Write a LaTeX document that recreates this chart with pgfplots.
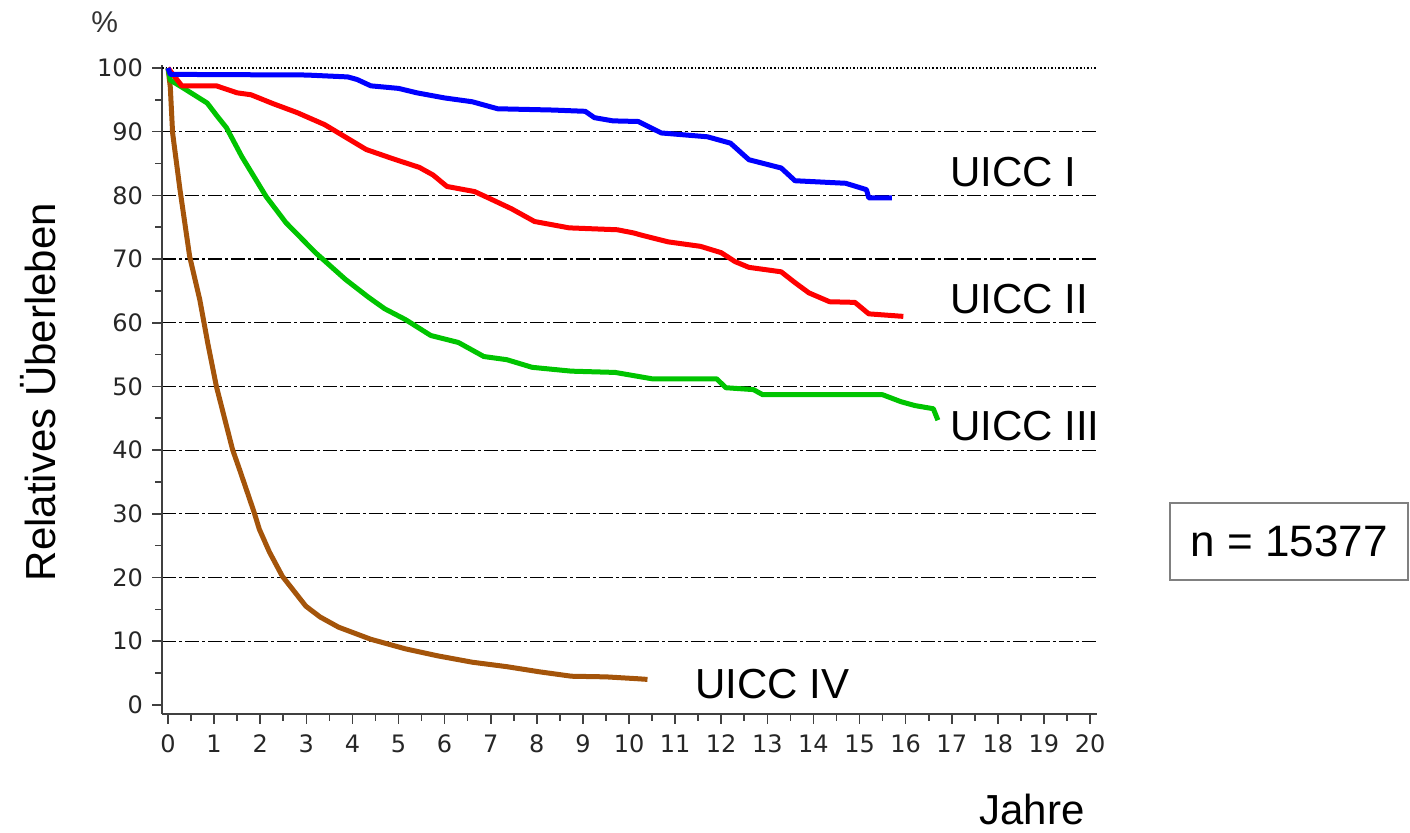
\documentclass[border=0pt]{standalone}
\usepackage{fontspec}
\setmainfont{Liberation Sans}
\newfontfamily\tickfont{DejaVu Sans}
\usepackage{pgfplots}
\pgfplotsset{compat=1.18}

\definecolor{uiccI}{RGB}{0,0,255}
\definecolor{uiccII}{RGB}{255,0,0}
\definecolor{uiccIII}{RGB}{0,196,0}
\definecolor{uiccIV}{RGB}{164,84,10}

\begin{document}
\begin{tikzpicture}
\begin{axis}[
  scale only axis, width=467.5pt, height=324.5pt,
  xmin=-0.13, xmax=20.15, ymin=-1.4, ymax=100.5,
  axis x line*=bottom, axis y line*=left,
  axis line style={-, black!75, line width=0.8pt},
  xtick={0,...,20}, minor xtick={0.5,1.5,...,19.5},
  ytick={10,20,...,90}, minor ytick={5,15,...,95},
  extra y ticks={0,100},
  extra y tick style={ymajorgrids=false},
  ymajorgrids,
  grid style={black, line width=0.6pt, dash pattern=on 7pt off 1.5pt on 1.5pt off 1.5pt},
  tick align=outside,
  major tick length=5pt, minor tick length=3.5pt,
  tick style={black!75, line width=0.8pt},
  /pgf/number format/assume math mode=true,
  ticklabel style={font=\tickfont\fontsize{12}{14}\selectfont, text=black!85},
  xticklabel style={yshift=-2pt},
  yticklabel style={xshift=-1pt},
  clip=false,
]
% top line at 100 is dotted in the original
\addplot[black, line width=0.8pt, densely dotted] coordinates {(-0.13,100) (20.15,100)};

% UICC IV
\addplot[uiccIV, line width=2.5pt, line join=round] coordinates {
(0,100) (0.05,97) (0.1,89.8) (0.26,80.9) (0.47,70.4) (0.69,63.6) (0.86,56.9)
(1.05,50) (1.4,40.1) (1.55,37) (1.87,30.2) (1.98,27.6) (2.2,24) (2.48,20.2)
(2.99,15.5) (3.3,13.8) (3.7,12.2) (4.4,10.3) (5.15,8.8) (5.85,7.7) (6.6,6.7)
(7.35,6) (8.05,5.2) (8.75,4.5) (9.5,4.4) (10.2,4.1) (10.4,4.0)};

% UICC III
\addplot[uiccIII, line width=2.5pt, line join=round] coordinates {
(0,100) (0.05,98.1) (0.3,97) (0.85,94.5) (1.05,92.6) (1.27,90.6) (1.6,86.1)
(2.13,79.8) (2.56,75.7) (3.2,71) (3.85,66.8) (4.35,64) (4.7,62.2) (5.15,60.5)
(5.7,58) (6.3,56.9) (6.85,54.7) (7.35,54.2) (7.9,53) (8.75,52.4) (9.7,52.2)
(10.1,51.7) (10.5,51.2) (11.9,51.2) (12.1,49.8) (12.7,49.5) (12.9,48.7)
(15.5,48.7) (15.9,47.6) (16.2,47) (16.6,46.5) (16.7,44.7)};

% UICC II
\addplot[uiccII, line width=2.5pt, line join=round] coordinates {
(0,100) (0.3,97.2) (1.05,97.2) (1.5,96.1) (1.8,95.8) (2.28,94.4) (2.8,93)
(3.4,91.1) (3.7,89.8) (4.3,87.2) (4.9,85.7) (5.45,84.4) (5.75,83.2) (6.05,81.4)
(6.65,80.6) (6.95,79.6) (7.45,77.9) (7.95,75.9) (8.7,74.9) (9.75,74.6)
(10.1,74.1) (10.3,73.7) (10.85,72.7) (11.55,72) (12.0,71) (12.3,69.6)
(12.6,68.7) (13.3,68) (13.6,66.3) (13.9,64.7) (14.35,63.3) (14.9,63.2)
(15.2,61.4) (15.95,61)};

% UICC I
\addplot[uiccI, line width=2.5pt, line join=round] coordinates {
(0,100) (0.05,99) (3,98.9) (3.9,98.6) (4.1,98.2) (4.4,97.2) (5.0,96.8)
(5.4,96.1) (6.0,95.3) (6.6,94.7) (7.15,93.6) (8.35,93.4) (9.05,93.2)
(9.25,92.2) (9.65,91.7) (10.2,91.6) (10.7,89.8) (11.7,89.2) (12.2,88.2)
(12.6,85.6) (13.3,84.3) (13.6,82.3) (14.7,81.9) (15.15,80.9) (15.2,79.6)
(15.7,79.6)};

\node[font=\fontsize{15}{18}\selectfont, text=black!80] at (axis cs:-1.37,107.2) {\%};
\node[rotate=90, font=\fontsize{21}{25}\selectfont] at (axis cs:-2.82,49.1) {Relatives Überleben};
\node[font=\fontsize{21}{25}\selectfont] at (axis cs:18.74,-16.5) {Jahre};
\node[anchor=west, inner sep=0pt, font=\fontsize{21}{25}\selectfont] at (axis cs:16.96,83.7) {UICC I};
\node[anchor=west, inner sep=0pt, font=\fontsize{21}{25}\selectfont] at (axis cs:16.96,63.7) {UICC II};
\node[anchor=west, inner sep=0pt, font=\fontsize{21}{25}\selectfont] at (axis cs:16.96,43.8) {UICC III};
\node[anchor=west, inner sep=0pt, font=\fontsize{21}{25}\selectfont] at (axis cs:11.43,3.3) {UICC IV};
\node[draw=black!50, line width=0.8pt, minimum width=119pt, minimum height=38.5pt,
  font=\fontsize{22}{26}\selectfont] at (axis cs:24.32,25.67) {n = 15377};

\path (axis cs:-3.644,-19.47) rectangle (axis cs:26.94,110.68);
\end{axis}
\end{tikzpicture}
\end{document}
